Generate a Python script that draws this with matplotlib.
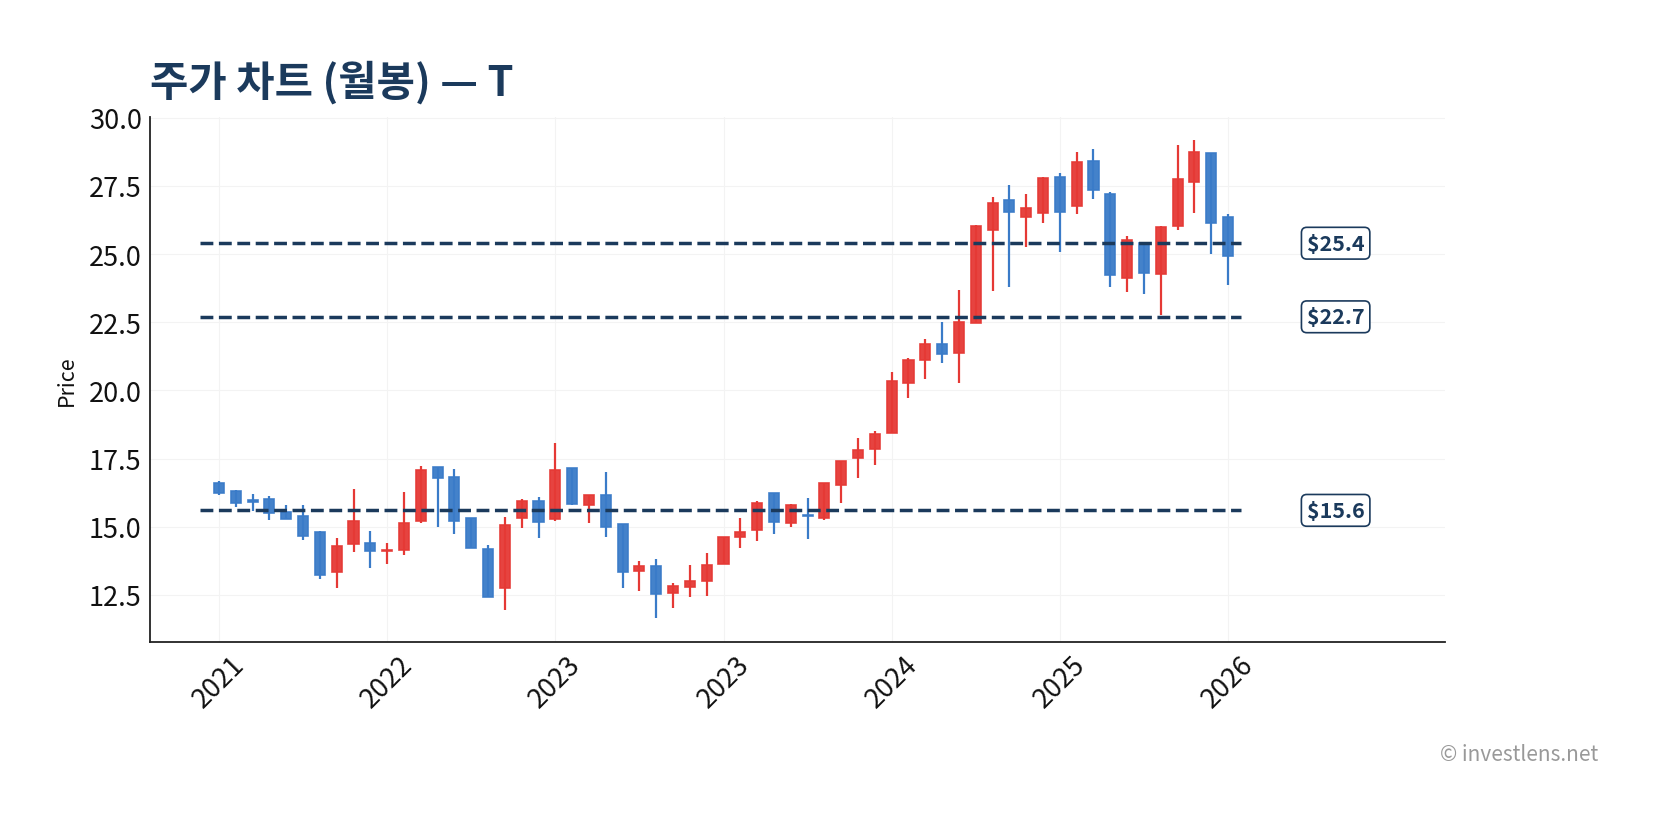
import matplotlib
matplotlib.use("Agg")
import matplotlib.pyplot as plt
import numpy as np

plt.rcParams['font.family'] = ['Noto Sans CJK KR', 'DejaVu Sans']

# monthly OHLC
opens = [16.61, 16.31, 15.98, 16.00, 15.53, 15.38, 14.79, 13.33, 14.38, 14.42,
         14.12, 14.15, 15.22, 17.18, 16.81, 15.31, 14.20, 12.76, 15.33, 15.93,
         15.29, 17.17, 15.78, 16.18, 15.11, 13.38, 13.55, 12.57, 12.79, 13.01,
         13.65, 14.64, 14.87, 16.24, 15.12, 15.44, 15.33, 16.52, 17.51, 17.84,
         18.42, 20.27, 21.10, 21.72, 21.36, 22.46, 25.88, 26.99, 26.37, 26.51,
         27.82, 26.76, 28.41, 27.19, 24.12, 25.42, 24.28, 26.03, 27.66, 28.71,
         26.36]
highs = [16.69, 16.36, 16.21, 16.14, 15.81, 15.81, 14.84, 14.60, 16.40, 14.84,
         14.41, 16.29, 17.24, 17.18, 17.13, 15.31, 14.34, 15.36, 16.02, 16.09,
         18.06, 17.17, 16.18, 17.00, 15.11, 13.73, 13.80, 12.95, 13.61, 14.02,
         14.62, 15.31, 15.96, 16.24, 15.85, 16.04, 16.61, 17.41, 18.25, 18.50,
         20.67, 21.19, 21.89, 22.51, 23.69, 26.07, 27.11, 27.55, 27.22, 27.83,
         27.98, 28.73, 28.86, 27.28, 25.66, 25.42, 26.03, 29.02, 29.17, 28.71,
         26.47]
lows = [16.15, 15.71, 15.56, 15.23, 15.28, 14.53, 13.10, 12.77, 14.06, 13.50,
        13.62, 13.95, 15.12, 14.98, 14.75, 14.23, 12.43, 11.96, 14.94, 14.58,
        15.21, 15.80, 15.13, 14.62, 12.75, 12.63, 11.64, 12.01, 12.41, 12.45,
        13.65, 14.22, 14.47, 14.73, 14.99, 14.55, 15.25, 15.87, 16.79, 17.27,
        18.42, 19.72, 20.42, 21.02, 20.27, 22.46, 23.63, 23.81, 25.25, 26.13,
        25.06, 26.46, 27.01, 23.81, 23.60, 23.52, 22.76, 25.87, 26.50, 24.99,
        23.88]
closes = [16.25, 15.88, 15.90, 15.50, 15.29, 14.66, 13.24, 14.28, 15.20, 14.12,
          14.14, 15.12, 17.07, 16.79, 15.22, 14.23, 12.43, 15.05, 15.93, 15.17,
          17.08, 15.83, 16.18, 15.00, 13.35, 13.55, 12.54, 12.82, 13.00, 13.59,
          14.62, 14.80, 15.87, 15.16, 15.81, 15.38, 16.61, 17.41, 17.82, 18.41,
          20.36, 21.13, 21.72, 21.34, 22.52, 26.02, 26.86, 26.54, 26.69, 27.78,
          26.54, 28.37, 27.37, 24.24, 25.50, 24.30, 25.98, 27.75, 28.75, 26.14,
          24.94]

tick_pos = [0, 10, 20, 30, 40, 50, 60]
tick_labels = ['2021', '2022', '2023', '2023', '2024', '2025', '2026']

levels = [25.4, 22.7, 15.6]

up_color = '#e53935'
down_color = '#3a7bc8'
navy = '#1b3a5c'

o = np.array(opens)
h = np.array(highs)
l = np.array(lows)
c = np.array(closes)
x = np.arange(len(o))
colors = [up_color if cc >= oo else down_color for oo, cc in zip(o, c)]

fig = plt.figure(figsize=(16.58, 8.28), dpi=100)
ax = fig.add_axes([0.0905, 0.2234, 0.781, 0.6341])

ax.vlines(x, l, h, colors=colors, lw=1.6, zorder=2)
ax.bar(x, np.abs(c - o), bottom=np.minimum(o, c), width=0.6,
       color=colors, alpha=0.95, edgecolor=colors, linewidth=1.2, zorder=3)

for lv in levels:
    ax.hlines(lv, -1.1, 60.75, colors=navy, linestyles='--', lw=2.5, zorder=4)
    ax.text(66.4, lv, f'${lv:.1f}', ha='center', va='center', fontsize=15.5,
            fontweight='bold', color=navy, zorder=5,
            bbox=dict(boxstyle='round,pad=0.25', fc='white', ec=navy, lw=1.2))

ax.set_xlim(-4.1, 72.9)
ax.set_ylim(10.77, 30.03)
ax.set_yticks(np.arange(12.5, 30.01, 2.5))
ax.set_xticks(tick_pos)
ax.set_xticklabels(tick_labels, rotation=45)
ax.tick_params(axis='both', length=0, labelsize=19.5, colors='#111111', pad=6)
ax.grid(True, color='#f3f3f3', lw=0.8, zorder=0)
ax.set_axisbelow(True)

for s in ['top', 'right']:
    ax.spines[s].set_visible(False)
for s in ['left', 'bottom']:
    ax.spines[s].set_color('#222222')
    ax.spines[s].set_linewidth(1.3)

ax.set_ylabel('Price', fontsize=15.5, color='#111111', labelpad=8)
ax.set_title('주가 차트 (월봉) — T', loc='left', fontsize=30, fontweight='bold',
             color=navy, pad=16)

fig.text(0.964, 0.088, '© investlens.net', ha='right', va='center',
         fontsize=15, color='#999999')

fig.savefig('out.png', dpi=100)
